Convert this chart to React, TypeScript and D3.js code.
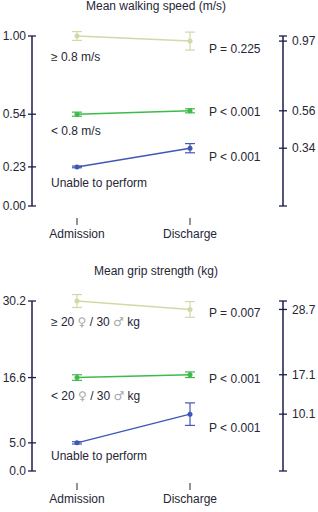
import * as d3 from "d3";
import { useEffect, useRef } from "react";

// time points
const timePoints = ["Admission", "Discharge"];

// walking speed (m/s)
const walkGroups = ["≥ 0.8 m/s", "< 0.8 m/s", "Unable to perform"];
const walkAdmission = [1.0, 0.54, 0.23];
const walkDischarge = [0.97, 0.56, 0.34];
const walkAdmErr = [0.026, 0.012, 0.005];
const walkDisErr = [0.053, 0.012, 0.027];
const walkP = ["P = 0.225", "P < 0.001", "P < 0.001"];
const walkLeftTicks = [1.0, 0.54, 0.23, 0.0];
const walkRightTicks = [0.97, 0.56, 0.34];

// grip strength (kg)
const gripGroups = ["≥ 20 ♀ / 30 ♂ kg", "< 20 ♀ / 30 ♂ kg", "Unable to perform"];
const gripAdmission = [30.2, 16.6, 5.0];
const gripDischarge = [28.7, 17.1, 10.1];
const gripAdmErr = [1.15, 0.5, 0.2];
const gripDisErr = [1.4, 0.5, 2.0];
const gripP = ["P = 0.007", "P < 0.001", "P < 0.001"];
const gripLeftTicks = [30.2, 16.6, 5.0, 0.0];
const gripRightTicks = [28.7, 17.1, 10.1];

const colors = ["#d3d9a6", "#3dbb4a", "#4058b4"];
const axisColor = "#1c1c4c";
const textColor = "#262636";
const font = "'Liberation Sans', Arial, sans-serif";

type Panel = {
  title: string;
  groups: string[];
  adm: number[];
  dis: number[];
  admErr: number[];
  disErr: number[];
  p: string[];
  leftTicks: number[];
  rightTicks: number[];
  fmt: string;
  top: number;
  groupDy: number[];
  pDy: number[];
};

const panels: Panel[] = [
  {
    title: "Mean walking speed (m/s)",
    groups: walkGroups, adm: walkAdmission, dis: walkDischarge,
    admErr: walkAdmErr, disErr: walkDisErr, p: walkP,
    leftTicks: walkLeftTicks, rightTicks: walkRightTicks, fmt: ".2f",
    top: 36, groupDy: [21, 17, 16], pDy: [8, 1, 9],
  },
  {
    title: "Mean grip strength (kg)",
    groups: gripGroups, adm: gripAdmission, dis: gripDischarge,
    admErr: gripAdmErr, disErr: gripDisErr, p: gripP,
    leftTicks: gripLeftTicks, rightTicks: gripRightTicks, fmt: ".1f",
    top: 301, groupDy: [21, 18, 13], pDy: [3, 4, 14],
  },
];

const App = () => {
  const ref = useRef<SVGSVGElement>(null);

  useEffect(() => {
    const svg = d3.select(ref.current);
    svg.selectAll("*").remove();

    const x = d3.scalePoint().domain(timePoints).range([77, 190]);
    const leftX = 32;
    const rightX = 283;
    const h = 170;

    panels.forEach((pn) => {
      const maxV = pn.leftTicks[0];
      const y = d3.scaleLinear().domain([0, maxV]).range([pn.top + h, pn.top]);
      const g = svg.append("g").style("font-family", font).style("font-size", "12px");

      // title
      g.append("text")
        .attr("x", 156)
        .attr("y", pn.top - 26)
        .attr("text-anchor", "middle")
        .attr("fill", textColor)
        .text(pn.title);

      // left axis
      g.append("line")
        .attr("x1", leftX).attr("x2", leftX)
        .attr("y1", y(0)).attr("y2", y(maxV))
        .attr("stroke", axisColor).attr("stroke-width", 1.5);
      pn.leftTicks.forEach((t) => {
        g.append("line")
          .attr("x1", leftX - 4).attr("x2", leftX + 4)
          .attr("y1", y(t)).attr("y2", y(t))
          .attr("stroke", axisColor).attr("stroke-width", 1.3);
        g.append("text")
          .attr("x", leftX - 6).attr("y", y(t)).attr("dy", "0.35em")
          .attr("text-anchor", "end").attr("fill", textColor)
          .text(d3.format(pn.fmt)(t));
      });

      // right axis
      g.append("line")
        .attr("x1", rightX).attr("x2", rightX)
        .attr("y1", y(0)).attr("y2", y(maxV))
        .attr("stroke", axisColor).attr("stroke-width", 1.5);
      [0, maxV].forEach((t) => {
        g.append("line")
          .attr("x1", rightX - 4).attr("x2", rightX + 4)
          .attr("y1", y(t)).attr("y2", y(t))
          .attr("stroke", axisColor).attr("stroke-width", 1.3);
      });
      pn.rightTicks.forEach((t) => {
        g.append("line")
          .attr("x1", rightX - 4).attr("x2", rightX + 4)
          .attr("y1", y(t)).attr("y2", y(t))
          .attr("stroke", axisColor).attr("stroke-width", 1.3);
        g.append("text")
          .attr("x", rightX + 9).attr("y", y(t)).attr("dy", "0.35em")
          .attr("fill", textColor)
          .text(d3.format(pn.fmt)(t));
      });

      // category ticks + labels
      timePoints.forEach((tp) => {
        g.append("line")
          .attr("x1", x(tp)!).attr("x2", x(tp)!)
          .attr("y1", y(0) + 12).attr("y2", y(0) + 19)
          .attr("stroke", textColor).attr("stroke-width", 1);
        g.append("text")
          .attr("x", x(tp)!).attr("y", y(0) + 32)
          .attr("text-anchor", "middle").attr("fill", textColor)
          .text(tp);
      });

      // series
      pn.groups.forEach((grp, i) => {
        const c = colors[i];
        const pts = [
          { t: timePoints[0], v: pn.adm[i], e: pn.admErr[i] },
          { t: timePoints[1], v: pn.dis[i], e: pn.disErr[i] },
        ];
        g.append("path")
          .datum(pts)
          .attr("d", d3.line<any>().x((d) => x(d.t)!).y((d) => y(d.v)))
          .attr("fill", "none").attr("stroke", c).attr("stroke-width", 1.5);
        pts.forEach((d) => {
          const cx = x(d.t)!;
          const e = g.append("g").attr("stroke", c).attr("stroke-width", 1.2);
          e.append("line").attr("x1", cx).attr("x2", cx).attr("y1", y(d.v - d.e)).attr("y2", y(d.v + d.e));
          e.append("line").attr("x1", cx - 5).attr("x2", cx + 5).attr("y1", y(d.v - d.e)).attr("y2", y(d.v - d.e));
          e.append("line").attr("x1", cx - 5).attr("x2", cx + 5).attr("y1", y(d.v + d.e)).attr("y2", y(d.v + d.e));
          g.append("circle").attr("cx", cx).attr("cy", y(d.v)).attr("r", 2.5).attr("fill", c);
        });

        // group label
        const lbl = g.append("text")
          .attr("x", 51).attr("y", y(pn.adm[i]) + pn.groupDy[i]).attr("dy", "0.35em")
          .attr("fill", textColor);
        grp.split(/([♀♂])/).forEach((part) => {
          if (!part) return;
          const sym = part === "♀" || part === "♂";
          lbl.append("tspan")
            .attr("fill", sym ? "#a8a8a8" : textColor)
            .style("font-family", sym ? "'DejaVu Sans', sans-serif" : font)
            .text(part);
        });

        // p value
        g.append("text")
          .attr("x", 209).attr("y", y(pn.dis[i]) + pn.pDy[i]).attr("dy", "0.35em")
          .attr("fill", textColor)
          .text(pn.p[i]);
      });
    });
  }, []);

  return (
    <svg
      ref={ref}
      width={318}
      height={512}
      style={{ position: "absolute", left: 0, top: 0, background: "#fff" }}
    />
  );
};

export default App;
